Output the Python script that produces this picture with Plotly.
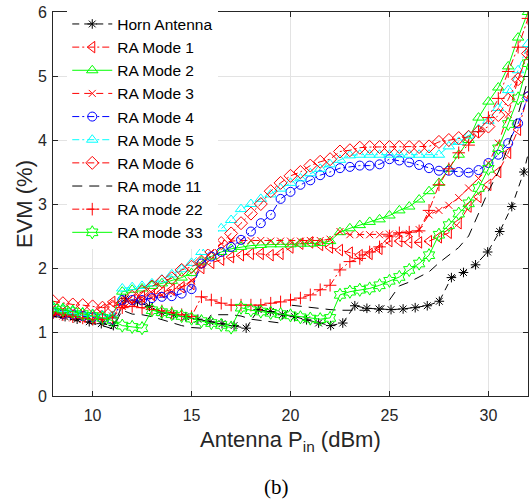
import plotly.graph_objects as go

# ---------------- data ----------------
pin_ra = [8.0, 8.5, 9.0, 9.5, 10.0, 10.5, 11.0, 11.5, 12.0, 12.5, 13.0, 13.5, 14.0, 14.5,
          15.0, 15.5, 16.0, 16.5, 17.0, 17.5, 18.0, 18.5, 19.0, 19.5, 20.0, 20.5, 21.0,
          21.5, 22.0, 22.5, 23.0, 23.5, 24.0, 24.5, 25.0, 25.5, 26.0, 26.5, 27.0, 27.5,
          28.0, 28.5, 29.0, 29.5, 30.0, 30.5, 31.0, 31.5, 32.0]

pin_horn = [8.00, 8.61, 9.22, 9.83, 10.44, 11.05, 11.66, 12.27, 12.88, 13.49, 14.10, 14.71,
            15.32, 15.93, 16.54, 17.15, 17.76, 18.37, 18.98, 19.59, 20.20, 20.81, 21.42,
            22.03, 22.64, 23.25, 23.86, 24.47, 25.08, 25.69, 26.30, 26.91, 27.52, 28.13,
            28.74, 29.35, 29.96, 30.57, 31.18, 31.79, 32.40]

evm_horn = [1.28, 1.24, 1.20, 1.16, 1.13, 1.10, 1.52, 1.47, 1.40, 1.30, 1.27, 1.24, 1.20,
            1.16, 1.13, 1.10, 1.06, 1.35, 1.32, 1.27, 1.24, 1.19, 1.14, 1.10, 1.14, 1.41,
            1.37, 1.36, 1.35, 1.36, 1.38, 1.41, 1.48, 1.85, 1.93, 2.05, 2.25, 2.57, 2.96,
            3.50, 4.30]

evm_mode1 = [1.32, 1.30, 1.27, 1.24, 1.22, 1.35, 1.47,
             1.45, 1.50, 1.55, 1.58, 1.62, 1.66, 1.70, 1.75,
             2.00, 2.08, 2.13, 2.17, 2.20, 2.22, 2.22, 2.20, 2.22, 2.32, 2.38, 2.40, 2.36, 2.32,
             2.28, 2.24, 2.20, 2.22, 2.30,
             2.42, 2.42, 2.40, 2.40, 2.42, 2.48, 2.55, 2.70, 2.96, 3.11, 3.30, 3.50, 3.80, 4.16, 4.70]

evm_mode2 = [1.36, 1.34, 1.32, 1.30, 1.28, 1.26, 1.25,
             1.63, 1.66, 1.68, 1.72, 1.76, 1.80, 1.85, 1.92,
             2.10, 2.18, 2.25, 2.30, 2.33, 2.35, 2.36, 2.37, 2.37, 2.37, 2.38, 2.38, 2.39, 2.42,
             2.56, 2.62, 2.67, 2.72, 2.76,
             2.82, 2.90, 2.96, 3.07, 3.20, 3.33, 3.55, 3.77, 4.00, 4.35, 4.60, 4.82, 5.15, 5.60, 6.00]

evm_mode3 = [1.28, 1.25, 1.22, 1.20, 1.18, 1.20, 1.25,
             1.40, 1.45, 1.50, 1.54, 1.58, 1.63, 1.70, 1.80,
             2.05, 2.25, 2.38, 2.42, 2.43, 2.43, 2.43, 2.42, 2.42, 2.42, 2.42, 2.43, 2.43, 2.45,
             2.57, 2.52, 2.52, 2.52, 2.52,
             2.53, 2.53, 2.54, 2.60, 2.83, 2.90, 2.98, 3.10, 3.25, 3.40, 3.64, 3.95, 4.40, 4.95, 5.40]

evm_mode4 = [1.30, 1.28, 1.27, 1.25, 1.23, 1.21, 1.19,
             1.50, 1.50, 1.50, 1.53, 1.55, 1.56, 1.60, 1.67,
             2.07, 2.18, 2.25, 2.33, 2.44, 2.57, 2.70, 2.83, 3.08, 3.19, 3.30, 3.37, 3.45, 3.50,
             3.56, 3.58, 3.60, 3.60, 3.62,
             3.70, 3.68, 3.65, 3.61, 3.56, 3.52, 3.52, 3.50, 3.49, 3.53, 3.64, 3.77, 3.95, 4.26, 4.68]

evm_mode5 = [1.38, 1.36, 1.33, 1.30, 1.28, 1.26, 1.25,
             1.68, 1.70, 1.72, 1.76, 1.82, 1.90, 1.98, 2.08,
             2.25, 2.48, 2.62, 2.75, 2.92, 3.00, 3.08, 3.15, 3.24, 3.33, 3.40, 3.48, 3.55, 3.62,
             3.69, 3.76, 3.77, 3.77, 3.77,
             3.77, 3.77, 3.77, 3.77, 3.77, 3.77, 3.90, 3.97, 4.07, 4.17, 4.30, 4.50, 4.78, 5.09, 5.50]

evm_mode6 = [1.48, 1.45, 1.43, 1.42, 1.40, 1.38, 1.40,
             1.45, 1.55, 1.63, 1.71, 1.79, 1.84, 1.97, 2.02,
             2.10, 2.25, 2.39, 2.54, 2.70, 2.85, 3.00, 3.20, 3.33, 3.44, 3.50, 3.60, 3.66, 3.70,
             3.82, 3.84, 3.88, 3.89, 3.89,
             3.89, 3.89, 3.89, 3.89, 3.90, 3.97, 4.00, 4.03, 4.05, 4.13, 4.21, 4.39, 4.63, 4.95, 5.35]

evm_mode11 = [1.25, 1.22, 1.19, 1.16, 1.13, 1.10, 1.05,
              1.34, 1.28, 1.27, 1.24, 1.19, 1.15, 1.10, 1.07,
              1.06, 1.27, 1.27, 1.27, 1.25, 1.20, 1.18, 1.16, 1.14, 1.42, 1.40, 1.38, 1.36, 1.35,
              1.34, 1.34, 1.33, 1.33, 1.34,
              1.50, 1.72, 1.78, 1.86, 1.94, 2.08, 2.20, 2.32, 2.50, 2.85, 3.20, 3.50, 3.90, 4.40, 4.95]

evm_mode22 = [1.30, 1.27, 1.24, 1.22, 1.20, 1.20, 1.22,
              1.38, 1.40, 1.38, 1.35, 1.33, 1.30, 1.27, 1.24,
              1.55, 1.50, 1.45, 1.42, 1.42, 1.42, 1.42, 1.45, 1.47, 1.50, 1.53, 1.58, 1.66, 1.73,
              1.97, 2.10, 2.15, 2.25, 2.33,
              2.50, 2.55, 2.56, 2.58, 2.90, 3.30, 3.55, 3.80, 3.92, 4.13, 4.35, 4.65, 5.07, 5.45, 5.90]

evm_mode33 = [1.38, 1.35, 1.32, 1.28, 1.25, 1.22, 1.18,
              1.10, 1.08, 1.06, 1.34, 1.31, 1.28, 1.25, 1.21,
              1.17, 1.14, 1.11, 1.07, 1.38, 1.34, 1.32, 1.30, 1.28, 1.26, 1.23, 1.21, 1.20, 1.22,
              1.58, 1.63, 1.66, 1.68, 1.73,
              1.80, 1.86, 1.97, 2.07, 2.20, 2.52, 2.67, 2.85, 3.01, 3.25, 3.55, 3.87, 4.25, 4.65, 5.20]

x_ticks = [10, 15, 20, 25, 30]
y_ticks = [0, 1, 2, 3, 4, 5, 6]

# ---------------- styles ----------------
RED, GREEN, BLUE, CYAN, BLACK = "#ff0000", "#00ff00", "#0000ff", "#00ffff", "#000000"
DASH = "7px,5px"
DASHDOT = "7px,3px,2px,3px"
LONGDASH = "10px,7px"

series = [
    ("Horn Antenna", pin_horn, evm_horn, BLACK, DASH, "asterisk-open", 8),
    ("RA Mode 1", pin_ra, evm_mode1, RED, DASHDOT, "triangle-left-open", 10),
    ("RA Mode 2", pin_ra, evm_mode2, GREEN, "solid", "triangle-up-open", 10),
    ("RA Mode 3", pin_ra, evm_mode3, RED, DASH, "x-thin-open", 7),
    ("RA Mode 4", pin_ra, evm_mode4, BLUE, DASHDOT, "circle-open", 9),
    ("RA Mode 5", pin_ra, evm_mode5, CYAN, DASHDOT, "triangle-up-open", 10),
    ("RA Mode 6", pin_ra, evm_mode6, RED, DASHDOT, "diamond-open", 10),
    ("RA mode 11", pin_ra, evm_mode11, BLACK, LONGDASH, None, 0),
    ("RA mode 22", pin_ra, evm_mode22, RED, DASHDOT, "cross-thin-open", 9),
    ("RA mode 33", pin_ra, evm_mode33, GREEN, "solid", "hexagram-open", 10),
]

fig = go.Figure()
for name, xs, ys, col, dash, sym, size in series:
    if sym is None:
        fig.add_trace(go.Scatter(x=xs, y=ys, name=name, mode="lines",
                                 line=dict(color=col, width=1, dash=dash)))
    else:
        fig.add_trace(go.Scatter(x=xs, y=ys, name=name, mode="lines+markers",
                                 line=dict(color=col, width=1, dash=dash),
                                 marker=dict(symbol=sym, size=size, color=col,
                                             line=dict(color=col, width=1))))

AX = "#262626"
FONT = "Liberation Sans, Arial, sans-serif"
fig.update_layout(
    width=531, height=501,
    margin=dict(l=53, r=3, t=12, b=105),
    paper_bgcolor="white", plot_bgcolor="white",
    font=dict(family=FONT, size=16, color=AX),
    showlegend=True,
    legend=dict(x=0.03, y=1.012, xanchor="left", yanchor="top",
                bgcolor="white", borderwidth=0,
                font=dict(family=FONT, size=15.5, color="#000000"),
                tracegroupgap=0, itemwidth=40),
    xaxis=dict(range=[8, 32], tickvals=x_ticks, ticktext=[str(v) for v in x_ticks],
               showgrid=True, gridcolor="#e3e3e3", gridwidth=1,
               showline=True, linecolor=AX, linewidth=1, mirror="ticks",
               ticks="inside", ticklen=5, tickcolor=AX, zeroline=False,
               ticklabelstandoff=5,
               tickfont=dict(family=FONT, size=16, color=AX)),
    yaxis=dict(range=[0, 6], tickvals=y_ticks, ticktext=[str(v) for v in y_ticks],
               showgrid=True, gridcolor="#e3e3e3", gridwidth=1,
               showline=True, linecolor=AX, linewidth=1, mirror="ticks",
               ticks="inside", ticklen=5, tickcolor=AX, zeroline=False,
               ticklabelstandoff=2,
               tickfont=dict(family=FONT, size=16, color=AX)),
    annotations=[
        dict(text="Antenna P<sub>in</sub> (dBm)", xref="paper", yref="paper",
             x=0.5, y=0, yshift=-45, xanchor="center", yanchor="middle",
             showarrow=False, font=dict(family=FONT, size=22, color=AX)),
        dict(text="EVM (%)", xref="paper", yref="paper", x=0, xshift=-29,
             y=0.5, textangle=-90, xanchor="center", yanchor="middle",
             showarrow=False, font=dict(family=FONT, size=22, color=AX)),
        dict(text="(b)", xref="paper", yref="paper", x=0.47, y=0, yshift=-91,
             xanchor="center", yanchor="middle", showarrow=False,
             font=dict(family="Liberation Serif, Times New Roman, serif", size=21, color="#000000")),
    ],
)

fig.write_html("out.html", config={"displayModeBar": False},
               post_script="document.body.style.margin='0';document.body.style.padding='0';")
